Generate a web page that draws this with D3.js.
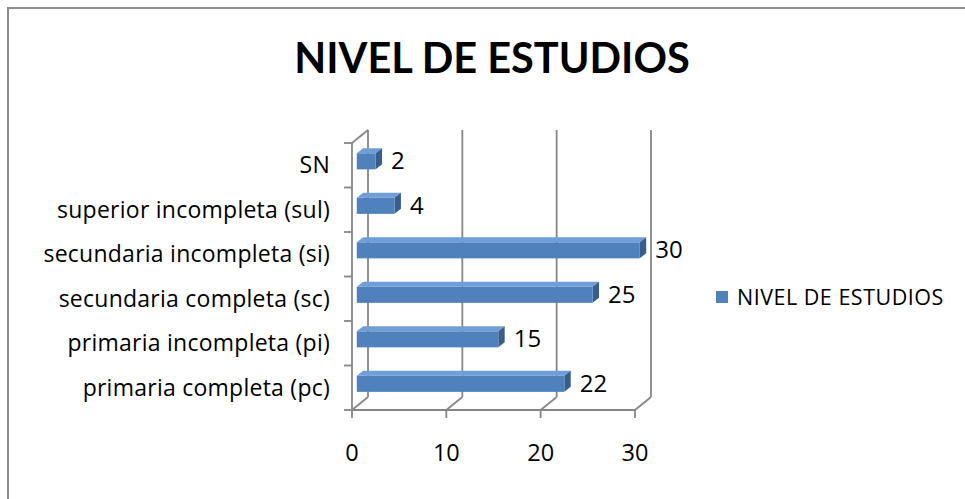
<!DOCTYPE html>
<html lang="es">
<head>
<meta charset="utf-8"/>
<script src="https://cdn.jsdelivr.net/npm/d3@7"></script>
<style>
  body { margin: 0; background: #fff; }
  text { font-family: "Open Sans", "Noto Sans", sans-serif; fill: #000; }
</style>
</head>
<body>
<script>
    // data (bottom to top)
    var categories = ["primaria completa (pc)", "primaria incompleta (pi)", "secundaria completa (sc)",
                      "secundaria incompleta (si)", "superior incompleta (sul)", "SN"];
    var values = [22, 15, 25, 30, 4, 2];
    var xTicks = [0, 10, 20, 30];
    var title = "NIVEL DE ESTUDIOS";
    var seriesName = "NIVEL DE ESTUDIOS";

    var w = 965, h = 499;
    var svg = d3.select("body").append("svg")
        .attr("width", w)
        .attr("height", h);

    // outer frame (cut by the window on right and bottom)
    svg.append("rect")
        .attr("x", 8).attr("y", 8)
        .attr("width", 1000).attr("height", 600)
        .attr("fill", "none")
        .attr("stroke", "#8c8c8c")
        .attr("stroke-width", 2);

    svg.append("text")
        .attr("x", 492).attr("y", 73)
        .attr("text-anchor", "middle")
        .style("font-family", "Lato, sans-serif")
        .style("font-weight", "bold")
        .style("font-size", "41.5px")
        .text(title);

    var x = d3.scaleLinear().domain([0, 30]).range([352, 635]);
    var y = d3.scaleBand().domain(categories).range([410, 143])
        .paddingInner(0.64).paddingOuter(0.32);
    var yb = d3.scaleBand().domain(categories).range([410, 143]);

    // depth of the 3d box
    var dx = 16, dy = -13;
    function px(xx, t) { return xx + dx * t; }
    function py(yy, t) { return yy + dy * t; }

    var grid = svg.append("g")
        .attr("stroke", "#868686")
        .attr("stroke-width", 1.8)
        .attr("fill", "none");

    // back wall vertical gridlines
    grid.selectAll("line.v").data(xTicks).enter().append("line")
        .attr("class", "v")
        .attr("x1", function(d) { return px(x(d), 1); })
        .attr("x2", function(d) { return px(x(d), 1); })
        .attr("y1", py(143, 1))
        .attr("y2", py(410, 1));

    // floor diagonals
    grid.selectAll("line.f").data(xTicks).enter().append("line")
        .attr("class", "f")
        .attr("x1", function(d) { return x(d); })
        .attr("y1", 410)
        .attr("x2", function(d) { return px(x(d), 1); })
        .attr("y2", py(410, 1));

    // left wall
    grid.append("line")
        .attr("x1", x(0)).attr("x2", x(0))
        .attr("y1", 143).attr("y2", 410);
    grid.append("line")
        .attr("x1", x(0)).attr("y1", 143)
        .attr("x2", px(x(0), 1)).attr("y2", py(143, 1));

    // floor front edge + x ticks
    grid.append("line")
        .attr("x1", x(0)).attr("x2", x(30))
        .attr("y1", 410).attr("y2", 410);
    grid.selectAll("line.xt").data(xTicks).enter().append("line")
        .attr("class", "xt")
        .attr("x1", function(d) { return x(d); })
        .attr("x2", function(d) { return x(d); })
        .attr("y1", 410).attr("y2", 418);

    // category ticks on left wall
    var yEdges = categories.map(function(c) { return yb(c); }).concat([410]);
    grid.selectAll("line.yt").data(yEdges).enter().append("line")
        .attr("class", "yt")
        .attr("x1", 344).attr("x2", x(0))
        .attr("y1", function(d) { return d; })
        .attr("y2", function(d) { return d; });

    svg.selectAll("text.xl").data(xTicks).enter().append("text")
        .attr("class", "xl")
        .attr("x", function(d) { return x(d); })
        .attr("y", 461)
        .attr("text-anchor", "middle")
        .style("font-size", "23.5px")
        .text(function(d) { return d; });

    svg.selectAll("text.cat").data(categories).enter().append("text")
        .attr("class", "cat")
        .attr("x", 330)
        .attr("y", function(d) { return yb(d) + yb.bandwidth() / 2 + 8; })
        .attr("text-anchor", "end")
        .style("font-size", "23px")
        .style("letter-spacing", "0.25px")
        .text(function(d) { return d; });

    // bars: front face, top face, right side
    var t1 = 0.3, t2 = 0.7;
    var data = categories.map(function(c, i) { return { cat: c, v: values[i] }; });
    var bars = svg.selectAll("g.bar").data(data).enter().append("g").attr("class", "bar");

    bars.append("path")
        .attr("fill", "#6f9ed8")
        .attr("d", function(d) {
            var y0 = y(d.cat), x0 = x(0), x1 = x(d.v);
            return "M" + px(x0, t1) + "," + py(y0, t1) +
                   "L" + px(x1, t1) + "," + py(y0, t1) +
                   "L" + px(x1, t2) + "," + py(y0, t2) +
                   "L" + px(x0, t2) + "," + py(y0, t2) + "Z";
        });
    bars.append("path")
        .attr("fill", "#385d8a")
        .attr("d", function(d) {
            var y0 = y(d.cat), y1 = y(d.cat) + y.bandwidth(), x1 = x(d.v);
            return "M" + px(x1, t1) + "," + py(y0, t1) +
                   "L" + px(x1, t2) + "," + py(y0, t2) +
                   "L" + px(x1, t2) + "," + py(y1, t2) +
                   "L" + px(x1, t1) + "," + py(y1, t1) + "Z";
        });
    bars.append("rect")
        .attr("fill", "#4f81bd")
        .attr("x", px(x(0), t1))
        .attr("y", function(d) { return py(y(d.cat), t1); })
        .attr("width", function(d) { return x(d.v) - x(0); })
        .attr("height", y.bandwidth());

    bars.append("text")
        .attr("x", function(d) { return px(x(d.v), t2) + 9; })
        .attr("y", function(d) { return py(y(d.cat) + y.bandwidth() / 2, t1) + 8; })
        .style("font-size", "24px")
        .text(function(d) { return d.v; });

    // legend
    var leg = svg.append("g");
    leg.append("rect")
        .attr("x", 716).attr("y", 291)
        .attr("width", 12).attr("height", 12)
        .attr("fill", "#4f81bd");
    leg.append("text")
        .attr("x", 737).attr("y", 304.5)
        .style("font-size", "21.5px")
        .style("letter-spacing", "0.5px")
        .text(seriesName);
</script>
</body>
</html>
